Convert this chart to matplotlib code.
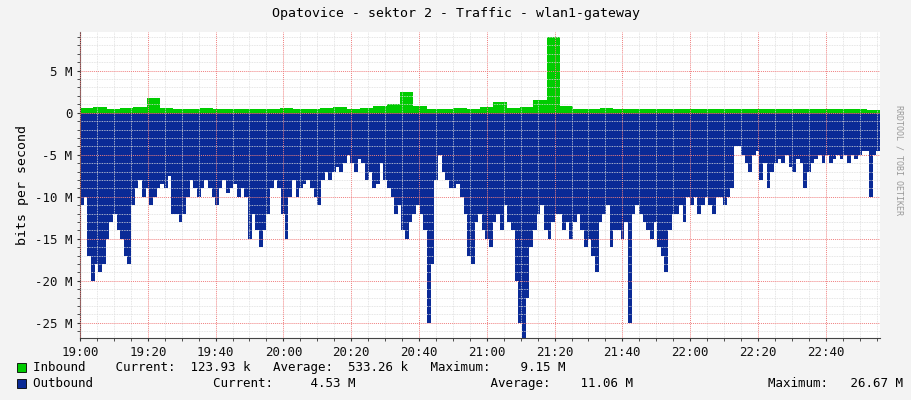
import numpy as np
import matplotlib
matplotlib.use("Agg")
import matplotlib.pyplot as plt

title = "Opatovice - sektor 2 - Traffic - wlan1-gateway"
span_min = 236  # minutes shown from 19:00
outbound = [11,10,17,20,18,19,18,15,13,12,14,15,17,18,11,9,8,10,9,11,10,9,8.5,9,7.5,12,
            12,13,12,10,8,9,10,9,8,9,10,11,9,8,9.5,9,8.5,10,9,10,15,12,14,16,14,12,9,8,9,
            12,15,10,8,10,9,8.5,8,9,10,11,8,7,8,7,6.5,7,6,5,6,7,5.5,6,8,7,9,8.5,6,8,
            9,10,12,11,14,15,13,12,11,12,14,25,18,8,5,7,8,9,9,8.5,10,12,17,18,13,
            12,14,15,16,13,12,14,11,13,14,20,25,27,22,16,14,12,11,14,15,13,12,12,14,13,15,
            13,12,14,16,15,17,19,13,12,11,16,14,14,15,13,25,12,11,12,13,14,15,13,16,
            17,19,14,12,12,11,13,10,11,10,12,11,10,11,12,10,10,11,10,9,4,4,5,6,
            7,5,4.5,8,6,9,7,6,5.5,6,5,6.5,7,5.5,6,9,7,6,5.5,5,6,5,6,5.5,
            5,5.5,5,6,5,5.5,5,4.5,4.5,10,5,4.5]
inbound = [0.6,0.7,0.5,0.6,0.7,1.8,0.6,0.5,0.5,0.6,0.5,0.5,0.5,0.4,0.5,0.6,0.5,0.5,0.6,0.7,
           0.5,0.6,0.8,1.0,2.5,0.8,0.5,0.5,0.6,0.5,0.7,1.3,0.6,0.7,1.5,9.0,0.8,0.5,0.5,0.6,
           0.5,0.5,0.5,0.4,0.5,0.5,0.5,0.5,0.4,0.5,0.4,0.5,0.5,0.4,0.5,0.4,0.5,0.4,0.5,0.3]
xticklabels = ["19:00","19:20","19:40","20:00","20:20","20:40","21:00","21:20","21:40","22:00","22:20","22:40"]
yticks = [5,0,-5,-10,-15,-20,-25]
ylabels = ["5 M","0","-5 M","-10 M","-15 M","-20 M","-25 M"]
legend_in = "Inbound    Current:  123.93 k   Average:  533.26 k   Maximum:    9.15 M"
legend_out = ("Outbound                Current:     4.53 M                  Average:    11.06 M"
              "                  Maximum:   26.67 M")

plt.rcParams['font.family'] = ['DejaVu Sans Mono']
fig = plt.figure(figsize=(9.11, 4.0), dpi=100, facecolor="#F3F3F3")
ax = fig.add_axes([80/911, 62/400, 800/911, 306/400], facecolor="white")

def steps(vals):
    n = len(vals)
    t = np.linspace(0, span_min, n + 1)
    v = np.append(vals, vals[-1])
    return t, v

t, v = steps(np.array(outbound, float))
ax.fill_between(t, 0, -v, step="post", color="#0A2A96", lw=0)
t2, v2 = steps(np.array(inbound, float))
ax.fill_between(t2, 0, v2, step="post", color="#00CC00", lw=0)

ax.set_xlim(0, span_min)
ax.set_ylim(-26.8, 9.6)
ax.set_xticks(np.arange(len(xticklabels)) * 20)
ax.set_xticklabels(xticklabels, fontsize=9)
ax.set_xticks(np.arange(0, span_min, 5), minor=True)
ax.set_yticks(yticks)
ax.set_yticklabels(ylabels, fontsize=9)
ax.set_yticks(np.arange(-26, 10, 1), minor=True)
ax.grid(which="minor", color="#DDDDDD", ls=(0, (1, 1)), lw=0.6)
ax.grid(which="major", color="#F08080", ls=(0, (1, 1)), lw=0.7)
ax.set_axisbelow(False)
for s in ["top", "right"]:
    ax.spines[s].set_visible(False)
for s in ["left", "bottom"]:
    ax.spines[s].set_color("#444444")
ax.axhline(0, color="#444444", lw=0.8)
ax.tick_params(which="both", length=2, colors="#333333", labelcolor="#111111")
ax.set_ylabel("bits per second", fontsize=9.5, labelpad=4)

fig.text(0.5, 0.965, title, ha="center", va="center", fontsize=9.5)
fig.text(0.987, 0.6, "RRDTOOL / TOBI OETIKER", rotation=270, fontsize=6, color="#999999", ha="center", va="center")
fig.patches.append(plt.Rectangle((17/911, 393/400 - 365/400), 9/911, 9/400, transform=fig.transFigure,
                                 facecolor="#00CC00", edgecolor="black", lw=0.6))
fig.patches.append(plt.Rectangle((17/911, 393/400 - 381/400), 9/911, 9/400, transform=fig.transFigure,
                                 facecolor="#0A2A96", edgecolor="black", lw=0.6))
fig.text(33/911, 1 - 368/400, legend_in, fontsize=9, va="center")
fig.text(33/911, 1 - 384/400, legend_out, fontsize=9, va="center")
fig.savefig("out.png", dpi=100, facecolor=fig.get_facecolor())
